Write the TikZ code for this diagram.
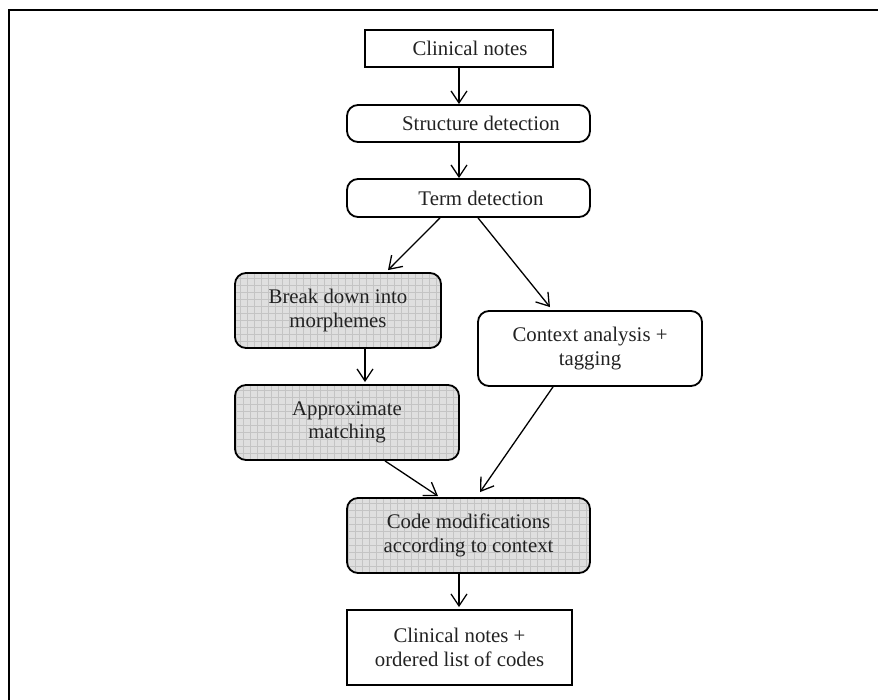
\documentclass[tikz,border=0pt]{standalone}
\usepackage{fontspec}
\setmainfont{Liberation Serif}
\usetikzlibrary{arrows.meta}

\definecolor{boxfill}{HTML}{DFDFDF}
\definecolor{gridline}{HTML}{C4C4C4}
\definecolor{inktext}{HTML}{222222}

\tikzset{
  base/.style={draw=black, line width=1.8pt, align=center, inner sep=0pt,
    text=inktext, font=\fontsize{20.8}{23.5}\selectfont},
  plainbox/.style={base},
  roundbox/.style={base, rounded corners=11pt},
  gridbox/.style={roundbox, fill=boxfill,
    path picture={\draw[gridline, line width=0.5pt, step=7pt]
      (path picture bounding box.south west) grid (path picture bounding box.north east);}},
  flow/.style={draw=black, line width=1.3pt, -{Straight Barb[length=12pt,width=16pt,line width=1.3pt]}},
  frameline/.style={draw=black, line width=2pt}
}

\begin{document}
\begin{tikzpicture}[x=1pt, y=-1pt]
  \useasboundingbox (0,0) rectangle (878,700);

  % open frame along the top and left
  \coordinate (frameTR) at (878,10);
  \coordinate (frameTL) at (9,10);
  \coordinate (frameBL) at (9,700);
  \draw[frameline] (frameTR) -- (frameTL) -- (frameBL);

  % process steps
  \node[plainbox, minimum width=188pt, minimum height=37pt] (cn) at (459,48.5)
    {\hspace*{22pt}Clinical notes};
  \node[roundbox, minimum width=243pt, minimum height=37pt] (sd) at (468.5,123.5)
    {\hspace*{25pt}Structure detection};
  \node[roundbox, minimum width=243pt, minimum height=38pt] (td) at (468.5,198)
    {\hspace*{25pt}Term detection};
  \node[gridbox, minimum width=206pt, minimum height=75pt] (bd) at (338,310.5)
    {Break down into\\morphemes};
  \node[gridbox, minimum width=224pt, minimum height=75pt] (am) at (347,422.5)
    {Approximate\\matching};
  \node[roundbox, minimum width=224pt, minimum height=75pt] (ca) at (590,348.5)
    {Context analysis +\\tagging};
  \node[gridbox, minimum width=243pt, minimum height=75pt] (cm) at (468.5,535.5)
    {Code modifications\\according to context};
  \node[plainbox, minimum width=225pt, minimum height=75pt] (out) at (459.5,647.5)
    {Clinical notes +\\ordered list of codes};

  % connectors
  \draw[flow] (cn.south) -- (cn.south |- sd.north);
  \draw[flow] ([xshift=-9.5pt]sd.south) -- ([xshift=-9.5pt]td.north);
  \draw[flow] ([xshift=-28.5pt]td.south) -- ([xshift=50pt,yshift=2pt]bd.north);
  \draw[flow] ([xshift=9.5pt]td.south) -- ([xshift=-40pt,yshift=3pt]ca.north);
  \draw[flow] ([xshift=27pt]bd.south) -- ([xshift=18pt,yshift=2pt]am.north);
  \draw[flow] ([xshift=38pt]am.south) -- ([xshift=-30.5pt,yshift=1pt]cm.north);
  \draw[flow] ([xshift=-37pt]ca.south) -- ([xshift=11.5pt,yshift=5pt]cm.north);
  \draw[flow] ([xshift=-9.5pt]cm.south) -- ([xshift=-0.5pt,yshift=2pt]out.north);
\end{tikzpicture}
\end{document}
